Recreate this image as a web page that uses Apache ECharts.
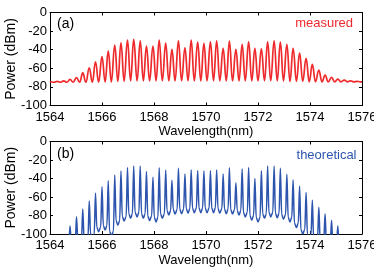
<!DOCTYPE html>
<html>
<head>
<meta charset="utf-8">
<script src="https://cdn.jsdelivr.net/npm/echarts@6/dist/echarts.min.js"></script>
<style>
html,body{margin:0;padding:0;background:#fff;}
#chart{width:374px;height:275px;}
</style>
</head>
<body>
<div id="chart"></div>
<script>
// (a) measured trace: sample wavelengths (nm) at comb peaks and valleys
const measuredWl = [1564.00,
  1564.03,1564.16,1564.28,1564.40,1564.52,1564.65,
  1564.77,1564.89,1565.02,1565.14,1565.26,1565.38,1565.51,1565.63,1565.75,1565.87,
  1566.00,1566.12,1566.24,1566.36,1566.49,1566.61,1566.73,1566.85,1566.98,1567.10,
  1567.22,1567.35,1567.47,1567.59,1567.71,1567.83,1567.96,1568.08,1568.20,1568.32,
  1568.45,1568.57,1568.69,1568.81,1568.94,1569.06,1569.19,1569.31,1569.43,1569.55,
  1569.68,1569.80,1569.92,1570.04,1570.17,1570.29,1570.41,1570.53,1570.66,1570.78,
  1570.90,1571.02,1571.15,1571.27,1571.39,1571.51,1571.64,1571.76,1571.88,1572.00,
  1572.13,1572.25,1572.37,1572.49,1572.62,1572.74,1572.86,1572.98,1573.11,1573.23,
  1573.35,1573.48,1573.60,1573.72,1573.85,1573.97,1574.09,1574.21,1574.34,1574.46,
  1574.58,1574.70,1574.83,1574.95,1575.07,1575.19,1575.32,1575.44,1575.56,1575.68,
  1575.81,1575.93,1576.00];

// (a) measured power (dBm)
const measured = [-75,
  -74.5,-75,-74,-75,-73.5,-75,
  -72,-75,-70,-75,-65,-75,-59.5,-75,-53,-75,
  -47.5,-74.5,-41.5,-74.5,-35,-74,-32.5,-74,-29.7,-73.5,
  -29,-73.5,-30.4,-73.5,-36,-73.5,-36,-73.5,-29.7,-73.5,
  -33,-73.5,-39.7,-73.5,-30.4,-73.5,-37.9,-73.5,-29.7,-73.5,
  -31.8,-73.5,-33.3,-73.5,-31.5,-73.5,-30.4,-73.5,-38.6,-73.5,
  -30.8,-73.5,-39.7,-73.5,-34.3,-73.5,-31.5,-73.5,-38.6,-73.5,
  -39,-73.5,-31.5,-73.5,-30.4,-73.5,-31.8,-73.5,-34.3,-74,
  -38.6,-74,-43.3,-74,-49.4,-74.5,-55.8,-74.5,-62,-74.5,
  -67.3,-74.5,-69.8,-74.5,-71.6,-74.5,-72.7,-74.5,-73.5,-74.5,
  -74,-74.5,-74.5];

// (b) theoretical trace: per comb line -> spike base, peak, spike base, valley (nm)
const theoreticalWl = [1564.00, 1564.65,
  1564.72,1564.77,1564.82,1564.89,  1564.97,1565.02,1565.07,1565.14,
  1565.21,1565.26,1565.31,1565.38,  1565.46,1565.51,1565.56,1565.63,
  1565.70,1565.75,1565.80,1565.87,  1565.95,1566.00,1566.05,1566.12,
  1566.19,1566.24,1566.29,1566.36,  1566.44,1566.49,1566.54,1566.61,
  1566.68,1566.73,1566.78,1566.85,  1566.93,1566.98,1567.03,1567.10,
  1567.17,1567.22,1567.27,1567.35,  1567.42,1567.47,1567.52,1567.59,
  1567.66,1567.71,1567.76,1567.83,  1567.91,1567.96,1568.01,1568.08,
  1568.15,1568.20,1568.25,1568.32,  1568.40,1568.45,1568.50,1568.57,
  1568.64,1568.69,1568.74,1568.81,  1568.89,1568.94,1568.99,1569.06,
  1569.14,1569.19,1569.24,1569.31,  1569.38,1569.43,1569.48,1569.55,
  1569.63,1569.68,1569.73,1569.80,  1569.87,1569.92,1569.97,1570.04,
  1570.12,1570.17,1570.22,1570.29,  1570.36,1570.41,1570.46,1570.53,
  1570.61,1570.66,1570.71,1570.78,  1570.85,1570.90,1570.95,1571.02,
  1571.10,1571.15,1571.20,1571.27,  1571.34,1571.39,1571.44,1571.51,
  1571.59,1571.64,1571.69,1571.76,  1571.83,1571.88,1571.93,1572.00,
  1572.08,1572.13,1572.18,1572.25,  1572.32,1572.37,1572.42,1572.49,
  1572.57,1572.62,1572.67,1572.74,  1572.81,1572.86,1572.91,1572.98,
  1573.06,1573.11,1573.16,1573.23,  1573.30,1573.35,1573.40,1573.48,
  1573.55,1573.60,1573.65,1573.72,  1573.80,1573.85,1573.90,1573.97,
  1574.04,1574.09,1574.14,1574.21,  1574.29,1574.34,1574.39,1574.46,
  1574.53,1574.58,1574.63,1574.70,  1574.78,1574.83,1574.88,1574.95,
  1575.02,1575.07,1575.12,1575.19,
  1576.00];

// (b) theoretical power (dBm)
const theoretical = [-120, -120,
  -115,-91.4,-110,-115,   -110,-81.3,-107,-112,
  -107,-73,-105,-110,     -105,-64.3,-100,-105,
  -100,-56,-92.5,-97.5,   -92.5,-49,-90.7,-95.7,
  -90.7,-42.4,-97,-102,   -97,-36.3,-85.5,-90.5,
  -85.5,-32,-81,-86,      -81,-28,-78,-83,
  -78,-26.5,-76.5,-81.5,  -76.5,-26.5,-78,-83,
  -78,-32.3,-80.5,-85.5,  -80.5,-38.6,-82,-87,
  -82,-28.5,-78,-83,      -78,-31,-74.5,-79.5,
  -74.5,-42,-73.5,-78.5,  -73.5,-29,-73,-78,
  -73,-35,-72.5,-77.5,    -72.5,-30.8,-72,-77,
  -72,-31.5,-72,-77,      -72,-31.9,-72,-77,
  -72,-31.5,-72,-77,      -72,-30.8,-72.5,-77.5,
  -72.5,-35,-73,-78,      -73,-28.3,-73.5,-78.5,
  -73.5,-44.5,-74.5,-79.5, -74.5,-29.7,-76.5,-81.5,
  -76.5,-28,-80,-85,      -80,-40,-82,-87,
  -82,-31.7,-78,-83,      -78,-26.5,-76.5,-81.5,
  -76.5,-26.5,-77.5,-82.5, -77.5,-29,-79,-84,
  -79,-35.3,-82,-87,      -82,-41.6,-88,-93,
  -88,-48.5,-95,-100,     -95,-55.2,-100,-105,
  -100,-63.5,-105,-110,   -105,-71,-107,-112,
  -107,-78,-110,-115,     -110,-85,-113,-118,
  -113,-91.4,-115,-120,
  -120];

const xTicks = [1564, 1566, 1568, 1570, 1572, 1574, 1576];
const yTicks = [-100, -80, -60, -40, -20, 0];

const FONT = 'Liberation Sans, Arial, Helvetica, sans-serif';
const RED = '#ee2a2d';
const BLUE = '#2d55ae';

function pairs(xs, ys) { return xs.map((w, i) => [w, ys[i]]); }

const grids = [
  {left: 50, right: 12, top: 12.5, height: 93, containLabel: false, outerBoundsMode: 'none'},
  {left: 50, right: 12, top: 141.5, height: 92.5, containLabel: false, outerBoundsMode: 'none'}
];

const xAxes = [], yAxes = [];
grids.forEach((g, gi) => {
  const base = {
    type: 'value', gridIndex: gi,
    splitLine: {show: false}
  };
  xAxes.push(Object.assign({}, base, {
    position: 'bottom',
    min: xTicks[0], max: xTicks[xTicks.length - 1], interval: xTicks[1] - xTicks[0],
    name: 'Wavelength(nm)', nameLocation: 'middle', nameGap: 19.5, nameMoveOverlap: false,
    nameTextStyle: {fontFamily: FONT, fontSize: 13, color: '#000', verticalAlign: 'top'},
    axisLine: {onZero: false, lineStyle: {color: '#000', width: 1}},
    axisTick: {inside: true, length: 3, lineStyle: {color: '#000'}},
    axisLabel: {fontFamily: FONT, fontSize: 13, color: '#000', margin: 5,
                formatter: v => String(v)}
  }));
  xAxes.push(Object.assign({}, base, {
    position: 'top',
    min: xTicks[0], max: xTicks[xTicks.length - 1], interval: xTicks[1] - xTicks[0],
    axisLine: {onZero: false, lineStyle: {color: '#000', width: 1}},
    axisTick: {inside: true, length: 3, lineStyle: {color: '#000'}},
    axisLabel: {show: false}
  }));
  yAxes.push(Object.assign({}, base, {
    position: 'left',
    min: yTicks[0], max: yTicks[yTicks.length - 1], interval: yTicks[1] - yTicks[0],
    name: 'Power (dBm)', nameLocation: 'middle', nameGap: 32, nameMoveOverlap: false,
    nameTextStyle: {fontFamily: FONT, fontSize: 14, color: '#000'},
    axisLine: {show: true, onZero: false, lineStyle: {color: '#000', width: 1}},
    axisTick: {show: true, inside: true, length: 3, lineStyle: {color: '#000'}},
    axisLabel: {fontFamily: FONT, fontSize: 13, color: '#000', margin: 3,
                formatter: v => String(v)}
  }));
  yAxes.push(Object.assign({}, base, {
    position: 'right',
    min: yTicks[0], max: yTicks[yTicks.length - 1], interval: yTicks[1] - yTicks[0],
    axisLine: {show: true, onZero: false, lineStyle: {color: '#000', width: 1}},
    axisTick: {show: true, inside: true, length: 3, lineStyle: {color: '#000'}},
    axisLabel: {show: false}
  }));
});

const chart = echarts.init(document.getElementById('chart'), null, {renderer: 'canvas'});
chart.setOption({
  animation: false,
  backgroundColor: '#fff',
  grid: grids,
  xAxis: xAxes,
  yAxis: yAxes,
  series: [
    {type: 'line', xAxisIndex: 0, yAxisIndex: 0, data: pairs(measuredWl, measured),
     showSymbol: false, clip: true, smooth: 0.45, smoothMonotone: 'x',
     lineStyle: {color: RED, width: 1.7, join: 'round'}},
    {type: 'line', xAxisIndex: 2, yAxisIndex: 2, data: pairs(theoreticalWl, theoretical),
     showSymbol: false, clip: true, smooth: 0.35, smoothMonotone: 'x',
     lineStyle: {color: BLUE, width: 1.5, join: 'round'}}
  ],
  graphic: [
    {type: 'text', left: 57, top: 17, style: {text: '(a)', font: '14px ' + FONT, fill: '#000'}},
    {type: 'text', right: 21, top: 16.5, style: {text: 'measured', font: '13px ' + FONT, fill: RED}},
    {type: 'text', left: 57, top: 147, style: {text: '(b)', font: '14px ' + FONT, fill: '#000'}},
    {type: 'text', right: 17.5, top: 148.5, style: {text: 'theoretical', font: '13px ' + FONT, fill: BLUE}}
  ]
});
</script>
</body>
</html>
